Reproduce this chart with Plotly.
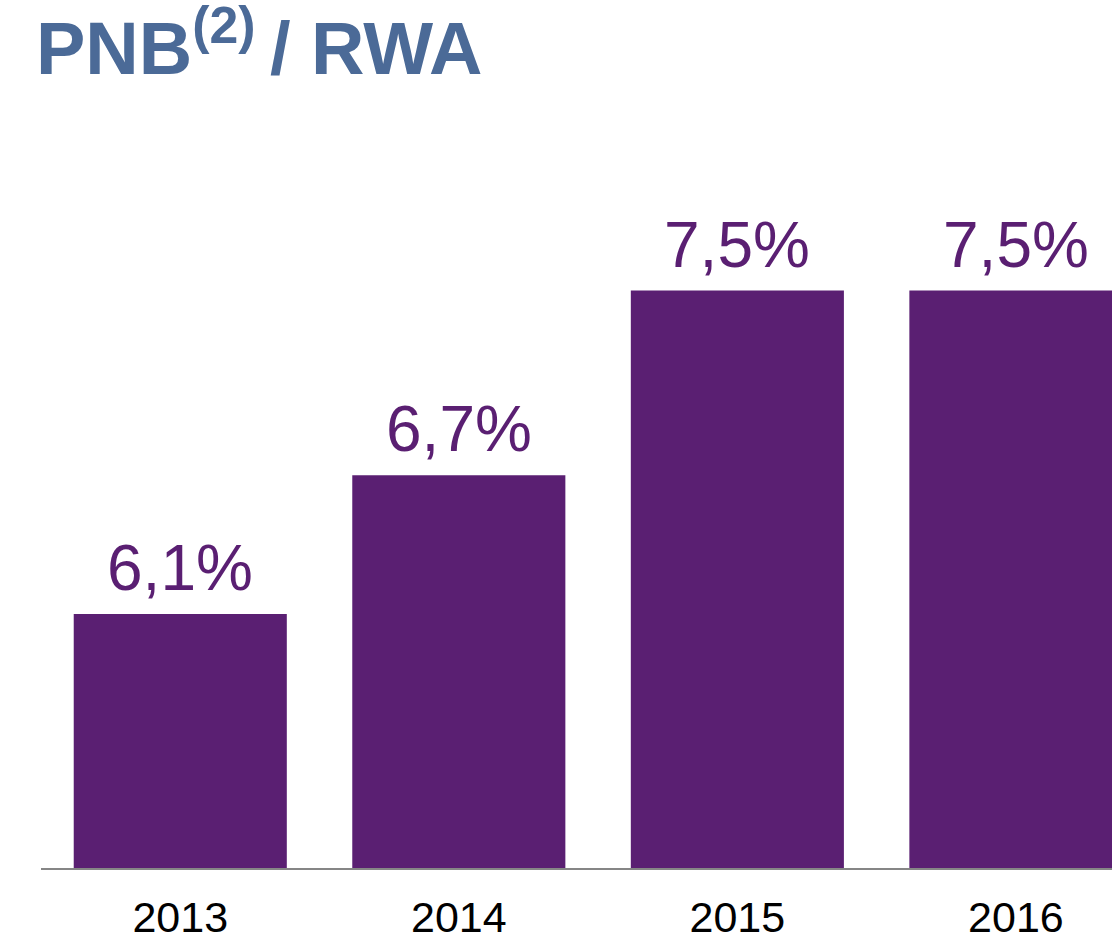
import plotly.graph_objects as go

years = ["2013", "2014", "2015", "2016"]
ratio_pct = [6.1, 6.7, 7.5, 7.5]
bar_labels = [f"{v:.1f}%".replace(".", ",") for v in ratio_pct]

PURPLE = "#5A1F72"
TITLE_BLUE = "#4B6A97"
FONT = "Liberation Sans, Arial, sans-serif"

fig = go.Figure(
    go.Bar(
        x=years,
        y=ratio_pct,
        marker=dict(color=PURPLE, line=dict(width=0)),
        hoverinfo="skip",
    )
)

# value labels above the bars (category index, since "2013" would be read as a number)
for i, (value, label) in enumerate(zip(ratio_pct, bar_labels)):
    fig.add_annotation(
        x=i,
        y=value,
        xref="x",
        yref="y",
        text=label,
        showarrow=False,
        yanchor="bottom",
        yshift=8,
        font=dict(family=FONT, size=64, color=PURPLE),
    )

fig.update_layout(
    width=1112,
    height=942,
    title=dict(
        text="<b>PNB<sup>(2) </sup>/ RWA</b>",
        font=dict(family=FONT, size=74, color=TITLE_BLUE),
        xref="container",
        x=36 / 1112,
        xanchor="left",
        yref="container",
        y=1 - 22 / 942,
        yanchor="top",
    ),
    font=dict(family=FONT, color="black"),
    plot_bgcolor="white",
    paper_bgcolor="white",
    bargap=0.235,
    showlegend=False,
    margin=dict(l=41, r=0, t=100, b=74),
)
fig.update_xaxes(
    type="category",
    range=[-0.5, 3.345],
    showline=True,
    linecolor="#868686",
    linewidth=1.5,
    showgrid=False,
    ticks="",
    ticklabelstandoff=11,
    tickfont=dict(family=FONT, size=43, color="black"),
)
fig.update_yaxes(
    range=[5, 8.325],
    showticklabels=False,
    showline=False,
    showgrid=False,
    zeroline=False,
    ticks="",
)

# drop the default page margin so the figure fills the window exactly
fig.write_html(
    "out.html",
    config={"displayModeBar": False},
    post_script="document.body.style.margin = '0'; document.body.style.overflow = 'hidden';",
)
